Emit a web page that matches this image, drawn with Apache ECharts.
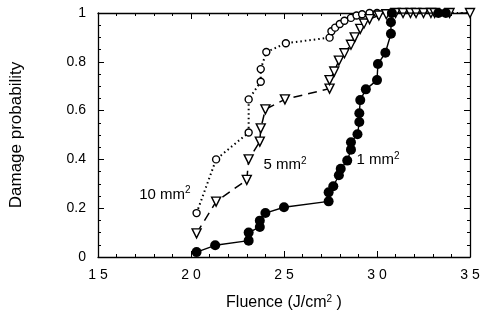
<!DOCTYPE html>
<html>
<head>
<meta charset="utf-8">
<script src="https://cdn.jsdelivr.net/npm/echarts@6/dist/echarts.min.js"></script>
<style>
  html, body { margin: 0; padding: 0; background: #fff; }
  #chart { width: 488px; height: 321px; }
</style>
</head>
<body>
<div id="chart"></div>
<script>
// fluence (J/cm2), damage probability
const area10 = [
  [20.3, 0.18], [21.35, 0.40], [23.1, 0.51], [23.1, 0.646], [23.75, 0.718],
  [23.75, 0.77], [24.05, 0.84], [25.1, 0.876], [27.45, 0.899], [27.55, 0.925],
  [27.75, 0.94], [28.0, 0.955], [28.25, 0.968], [28.6, 0.98], [28.9, 0.99],
  [29.2, 0.995], [29.6, 1.0], [30.0, 1.0], [35.0, 1.0]
]
const area5 = [
  [20.3, 0.097], [21.35, 0.227], [23.0, 0.316], [23.1, 0.40], [23.7, 0.473],
  [23.75, 0.527], [24.0, 0.605], [25.05, 0.646], [27.45, 0.69], [27.45, 0.725],
  [27.7, 0.76], [27.95, 0.805], [28.25, 0.835], [28.6, 0.87], [28.8, 0.9],
  [29.1, 0.935], [29.3, 0.957], [29.6, 0.975], [30.1, 0.99], [30.5, 0.995],
  [31.0, 1.0], [31.4, 1.0], [31.8, 1.0], [32.1, 1.0], [32.5, 1.0],
  [32.9, 1.0], [33.1, 1.0], [33.9, 1.0], [35.0, 1.0]
]
const area1 = [
  [20.3, 0.02], [21.3, 0.048], [23.1, 0.067], [23.1, 0.10], [23.7, 0.123],
  [23.7, 0.149], [24.0, 0.18], [25.0, 0.204], [27.4, 0.228], [27.4, 0.265],
  [27.65, 0.29], [27.95, 0.335], [28.05, 0.362], [28.4, 0.395], [28.6, 0.44],
  [28.6, 0.47], [28.95, 0.503], [29.05, 0.553], [29.05, 0.589], [29.1, 0.643],
  [29.4, 0.687], [30.0, 0.725], [30.05, 0.791], [30.45, 0.837], [30.75, 0.915],
  [30.75, 0.962], [30.8, 1.0], [33.3, 1.0], [33.7, 1.0]
]
const xTicks = [15, 20, 25, 30, 35]
const yTicks = [0, 0.2, 0.4, 0.6, 0.8, 1]
const labels = [
  { text: '10 mm{sup|2}', x: 18.6, y: 0.25 },
  { text: '5 mm{sup|2}', x: 25.05, y: 0.37 },
  { text: '1 mm{sup|2}', x: 30.05, y: 0.39 }
]

const font = 'Liberation Sans, Arial, sans-serif'
const sup = { fontSize: 10, verticalAlign: 'top', padding: [0, 0, 8, 0], fontFamily: font, color: '#000' }

const chart = echarts.init(document.getElementById('chart'))

function xAxisCfg(pos, show) {
  return {
    type: 'value', position: pos, min: xTicks[0], max: xTicks[xTicks.length - 1], interval: 5,
    axisLine: { show: true, onZero: false, lineStyle: { color: '#000', width: 1.3 } },
    axisTick: { show: true, inside: true, length: 6, lineStyle: { color: '#000' } },
    minorTick: { show: true, splitNumber: 5, length: 3, lineStyle: { color: '#000' } },
    splitLine: { show: false },
    axisLabel: {
      show: show, margin: 11, color: '#000', fontSize: 14, fontFamily: font,
      formatter: (v) => String(v).split('').join(' ')
    }
  }
}
function yAxisCfg(pos, show) {
  return {
    type: 'value', position: pos, min: yTicks[0], max: yTicks[yTicks.length - 1], interval: 0.2,
    axisLine: { show: true, onZero: false, lineStyle: { color: '#000', width: 1.3 } },
    axisTick: { show: true, inside: true, length: 6, lineStyle: { color: '#000' } },
    minorTick: { show: true, splitNumber: 4, length: 3, lineStyle: { color: '#000' } },
    splitLine: { show: false },
    axisLabel: {
      show: show, margin: 12, color: '#000', fontSize: 14, fontFamily: font,
      formatter: (v) => String(Math.round(v * 10) / 10)
    }
  }
}

const bottomX = xAxisCfg('bottom', true)
bottomX.name = 'Fluence (J/cm{sup|2} )'
bottomX.nameLocation = 'middle'
bottomX.nameGap = 37
bottomX.nameTextStyle = { fontSize: 16, color: '#000', fontFamily: font, rich: { sup } }

const leftY = yAxisCfg('left', true)
leftY.name = 'Damage probability'
leftY.nameLocation = 'middle'
leftY.nameGap = 73
leftY.nameTextStyle = { fontSize: 17, color: '#000', fontFamily: font }

const last10 = area10.length - 1

chart.setOption({
  animation: false,
  backgroundColor: '#fff',
  grid: { left: 98, right: 18, top: 13, bottom: 64 },
  xAxis: [bottomX, xAxisCfg('top', false)],
  yAxis: [leftY, yAxisCfg('right', false)],
  series: [
    {
      name: '10 mm2', type: 'line',
      data: area10.map((p, i) => (i === last10 ? { value: p, symbol: 'none' } : p)),
      symbol: 'circle', symbolSize: 7,
      itemStyle: { color: '#fff', borderColor: '#000', borderWidth: 1.4 },
      lineStyle: { color: '#000', width: 2, type: [1.5, 3] },
      z: 3
    },
    {
      name: '5 mm2', type: 'line', data: area5,
      symbol: 'triangle', symbolRotate: 180, symbolSize: 9,
      itemStyle: { color: '#fff', borderColor: '#000', borderWidth: 1.4 },
      lineStyle: { color: '#000', width: 1.5, type: [9, 6] },
      z: 4
    },
    {
      name: '1 mm2', type: 'line', data: area1,
      symbol: 'circle', symbolSize: 10,
      itemStyle: { color: '#000' },
      lineStyle: { color: '#000', width: 1.4 },
      z: 5
    },
    {
      name: 'labels', type: 'scatter', symbol: 'circle', symbolSize: 1,
      itemStyle: { color: '#fff', opacity: 0 },
      data: labels.map((l) => ({ value: [l.x, l.y], name: l.text })),
      label: {
        show: true, position: 'top', distance: -8, formatter: (p) => p.name,
        fontSize: 15, color: '#000', opacity: 1, textBorderWidth: 0, fontFamily: font,
        rich: { sup }
      },
      silent: true,
      z: 6
    }
  ]
})
</script>
</body>
</html>
